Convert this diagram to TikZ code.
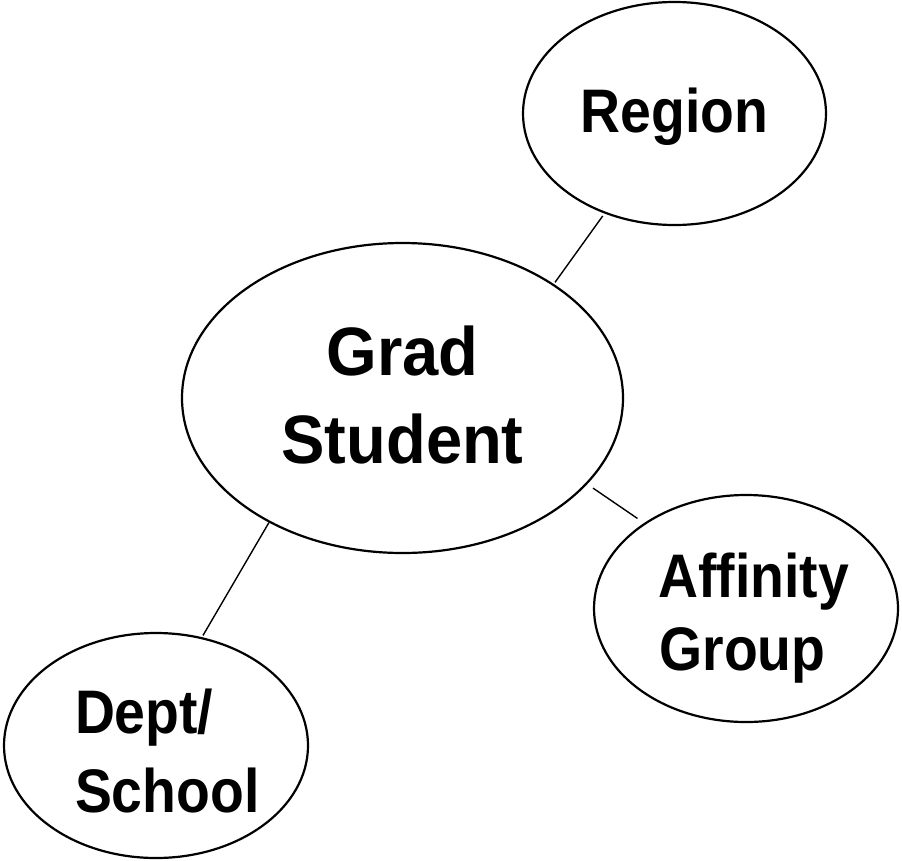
\documentclass[tikz,border=0pt]{standalone}
\usepackage{fontspec}
\newfontfamily\labfont{Liberation Sans}[FakeStretch=0.9]
\newfontfamily\labfontw{Liberation Sans}[FakeStretch=0.95]
\usetikzlibrary{shapes.geometric}
% centred row, text centre shifted by half of #1
\newcommand\crow[2]{\hbox to 0pt{\hss\kern#1pt\relax #2\hss}}
% left-aligned row starting #1 from the node centre
\newcommand\lrow[2]{\hbox to 0pt{\kern#1pt\relax #2\hss}}
\newcommand\lstack[2]{\vtop{\baselineskip=#1pt\relax #2}}
\tikzset{
  bub/.style={ellipse, draw, line width=2.2pt, inner sep=0pt, text=black,
    font=\labfont\bfseries\fontsize{61.5}{74}\selectfont},
  link/.style={line width=1.4pt}
}
\begin{document}
\begin{tikzpicture}[x=1pt,y=-1pt]
\useasboundingbox (0,0) rectangle (902,860);
\node[bub, minimum width=303pt, minimum height=223pt, text height=37pt, text depth=0pt]
  (region) at (674.5,113.5) {\crow{0}{Region}};
\node[bub, font=\labfontw\bfseries\fontsize{68.5}{88}\selectfont,
  minimum width=441pt, minimum height=310pt, text height=0pt, text depth=46pt]
  (grad) at (402.5,398) {\lstack{88}{\crow{0}{Grad}\crow{0}{Student}}};
\node[bub, minimum width=304pt, minimum height=227pt, text height=0pt, text depth=23pt]
  (aff) at (746,608.5) {\lstack{73}{\crow{15}{Affinity}\crow{-7}{Group}}};
\node[bub, minimum width=304pt, minimum height=225pt, text height=0pt, text depth=25pt]
  (dept) at (156,745.5) {\lstack{79}{\lrow{-81}{Dept/}\lrow{-81}{School}}};
\draw[link, shorten <=3pt, shorten >=2pt] (region.235) -- (grad.37);
\draw[link, shorten <=7pt, shorten >=8pt] (grad.335) -- (aff.140);
\draw[link, shorten <=0pt, shorten >=2pt] (grad.223) -- (dept.67);
\end{tikzpicture}
\end{document}
